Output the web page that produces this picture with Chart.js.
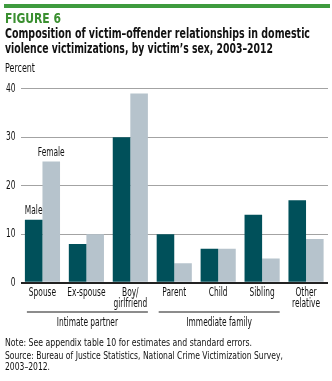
<!DOCTYPE html>
<html>
<head>
<meta charset="utf-8">
<script src="https://cdn.jsdelivr.net/npm/chart.js@4.4.1/dist/chart.umd.min.js"></script>
<style>
  body { margin: 0; background: #fff; }
  #wrap { position: relative; width: 332px; height: 381px; overflow: hidden; font-family: 'DejaVu Sans Condensed', sans-serif; color: #111; }
  #chart { position: absolute; left: 0; top: 0; }
  #rule { position: absolute; left: 4px; top: 4px; width: 326px; height: 4px; background-color: rgb(62, 155, 62); z-index: 5; }
  .txt { position: absolute; left: 5px; white-space: nowrap; transform-origin: 0 0; }
  .fig { top: 10px; font-size: 14px; font-weight: bold; color: #3a8f30; }
  .title { font-size: 14px; font-weight: bold; }
  .unit { top: 61px; font-size: 11.5px; }
  .note { font-size: 10.5px; }
</style>
</head>
<body>
<div id="wrap">
  <canvas id="chart" width="332" height="381"></canvas>
  <div id="rule"></div>
  <div class="txt fig" data-w="56">FIGURE 6</div>
  <div class="txt title" style="top:25px" data-w="305">Composition of victim–offender relationships in domestic</div>
  <div class="txt title" style="top:40px" data-w="268">violence victimizations, by victim’s sex, 2003–2012</div>
  <div class="txt unit" data-w="30">Percent</div>
  <div class="txt note" style="top:336px" data-w="247">Note: See appendix table 10 for estimates and standard errors.</div>
  <div class="txt note" style="top:349px" data-w="278">Source: Bureau of Justice Statistics, National Crime Victimization Survey,</div>
  <div class="txt note" style="top:360px" data-w="45">2003–2012.</div>
</div>
<script>
const categories = ['Spouse', 'Ex-spouse', ['Boy/', 'girlfriend'], 'Parent', 'Child', 'Sibling', ['Other', 'relative']];
const maleValues = [13, 8, 30, 10, 7, 14, 17];
const femaleValues = [25, 10, 39, 4, 7, 5, 9];
const yTicks = [0, 10, 20, 30, 40];
const groupNames = ['Intimate partner', 'Immediate family'];
const groupStart = [0, 3];
const groupEnd = [2, 5];

const FONT = "'DejaVu Sans Condensed', sans-serif";
const SQUEEZE = 0.69; // the original face is a very narrow one

// squeeze the html text to the widths it has in the original
document.querySelectorAll('.txt').forEach(el => {
    const w = el.getBoundingClientRect().width;
    el.style.transform = 'scaleX(' + (el.dataset.w / w) + ')';
});

function narrowText(ctx, text, x, y) {
    ctx.save();
    ctx.translate(x, y);
    ctx.scale(SQUEEZE, 1);
    ctx.fillText(text, 0, 0);
    ctx.restore();
}

// tick labels, series names and the group brackets, placed from the chart's scales
const labelsPlugin = {
    id: 'labels',
    afterDraw(chart) {
        const ctx = chart.ctx;
        const x = chart.scales.x;
        const y = chart.scales.y;
        ctx.save();
        // green rule above "FIGURE 6"
        ctx.fillStyle = '#3e9b3e';
        ctx.fillRect(4, 4, 326, 4);

        ctx.font = '12px ' + FONT;
        ctx.fillStyle = '#111';

        ctx.textAlign = 'right';
        ctx.textBaseline = 'middle';
        y.ticks.forEach(t => narrowText(ctx, String(t.value), x.left - 5, y.getPixelForValue(t.value)));

        ctx.textAlign = 'center';
        ctx.textBaseline = 'top';
        categories.forEach((c, i) => {
            const lines = Array.isArray(c) ? c : [c];
            lines.forEach((l, j) => narrowText(ctx, l, x.getPixelForValue(i), y.bottom + 4 + j * 11));
        });

        ctx.textBaseline = 'bottom';
        chart.data.datasets.forEach((ds, i) => {
            const bar = chart.getDatasetMeta(i).data[0];
            narrowText(ctx, ds.label, bar.x, bar.y - 3);
        });

        const half = x.width / categories.length * 0.4;
        for (let g = 0; g < groupNames.length; g++) {
            const x1 = x.getPixelForValue(groupStart[g]) - half + 2;
            const x2 = x.getPixelForValue(groupEnd[g]) + half;
            ctx.strokeStyle = '#666';
            ctx.lineWidth = 1.5;
            ctx.beginPath();
            ctx.moveTo(x1, 312);
            ctx.lineTo(x2, 312);
            ctx.stroke();
            ctx.textBaseline = 'middle';
            narrowText(ctx, groupNames[g], (x1 + x2) / 2, 323);
        }
        ctx.restore();
    }
};

new Chart(document.getElementById('chart'), {
    type: 'bar',
    data: {
        labels: categories,
        datasets: [{
            label: 'Male',
            data: maleValues,
            backgroundColor: '#00505a'
        }, {
            label: 'Female',
            data: femaleValues,
            backgroundColor: '#b6c3cc'
        }]
    },
    options: {
        responsive: false,
        animation: false,
        layout: { padding: { top: 88.7, right: 4, left: 0, bottom: 0 } },
        plugins: { legend: { display: false }, tooltip: { enabled: false } },
        datasets: { bar: { barPercentage: 1, categoryPercentage: 0.8 } },
        scales: {
            x: {
                afterFit(scale) { scale.height = 98.3; },
                grid: { display: false },
                border: { display: false },
                ticks: { display: false }
            },
            y: {
                min: 0,
                max: 40,
                afterFit(scale) { scale.width = 20.5; },
                afterBuildTicks(scale) { scale.ticks = yTicks.map(v => ({ value: v })); },
                border: { display: false },
                grid: {
                    drawTicks: false,
                    color: ctx => ctx.tick.value === 0 ? '#222' : '#a3a3a3',
                    lineWidth: ctx => ctx.tick.value === 0 ? 2 : 1
                },
                ticks: { display: false }
            }
        }
    },
    plugins: [labelsPlugin]
});
</script>
</body>
</html>
